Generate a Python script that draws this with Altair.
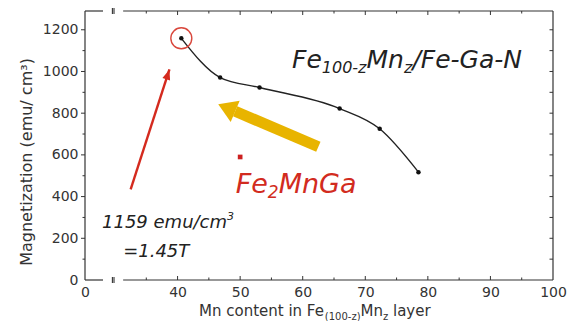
import altair as alt
import pandas as pd

# ---------------- data ----------------
mn_content = [40.6, 46.8, 53.1, 65.9, 72.3, 78.5]
magnetization = [1159, 971, 923, 822, 725, 517]
ref_x = [50.0]
ref_y = [590]

x_label_values = [0, 40, 50, 60, 70, 80, 90, 100]
y_label_values = [0, 200, 400, 600, 800, 1000, 1200]
x_minor = [35, 45, 55, 65, 75, 85, 95]
x_major = [40, 50, 60, 70, 80, 90]
y_major = [200, 400, 600, 800, 1000, 1200]
y_minor = [100, 300, 500, 700, 900, 1100]
y_all = [100, 200, 300, 400, 500, 600, 700, 800, 900, 1000, 1100, 1200]

# arrows (data coordinates)
red_arrow_tail = (32.5, 435)
red_arrow_tip = (38.7, 1010)
yel_arrow_tail = (62.5, 639)
yel_arrow_base = (49.2, 809)
yel_arrow_tip = (46.5, 843)

# ---------------- layout ----------------
W, H = 468, 269
FONT = "DejaVu Sans"
xs = alt.Scale(domain=[0, 30, 100], range=[0, 30, W], nice=False, zero=False)
ys = alt.Scale(domain=[0, 1290], nice=False, zero=False)

x_axis = alt.Axis(values=x_label_values, ticks=False, domain=False, grid=False, title=None,
                  labelFont=FONT, labelFontSize=14, labelColor="#333", labelPadding=5,
                  labelFlush=False, format="d")
y_axis = alt.Axis(values=y_label_values, ticks=False, domain=False, grid=False, title=None,
                  labelFont=FONT, labelFontSize=14, labelColor="#333", labelPadding=7,
                  format="d")

df = pd.DataFrame({"mn": mn_content, "mag": magnetization})
one = pd.DataFrame({"a": [0]})

X = lambda f: alt.X(f, type="quantitative", scale=xs, axis=x_axis)
Y = lambda f: alt.Y(f, type="quantitative", scale=ys, axis=y_axis)

curve = alt.Chart(df).mark_line(color="#222", strokeWidth=1.4, interpolate="monotone").encode(
    x=X("mn"), y=Y("mag"))
pts = alt.Chart(df).mark_point(filled=True, color="#111", size=20, opacity=1).encode(x=X("mn"), y=Y("mag"))

circ = alt.Chart(df.head(1)).mark_point(shape="circle", filled=False, color="#d9473c",
                                        strokeWidth=1.4, size=441, opacity=1).encode(x=X("mn"), y=Y("mag"))

ref = alt.Chart(pd.DataFrame({"x": ref_x, "y": ref_y})).mark_square(color="#cc2020", size=22, opacity=1).encode(
    x=X("x"), y=Y("y"))

# frame
seg = pd.DataFrame({"x0": [0, 31.3], "x1": [18, 100]})
frame_style = dict(color="#333", strokeWidth=1.2)
top_seg = alt.Chart(seg).mark_rule(**frame_style).encode(x=X("x0"), x2="x1", y=alt.value(0))
bot_seg = alt.Chart(seg).mark_rule(**frame_style).encode(x=X("x0"), x2="x1", y=alt.value(H))
left_ln = alt.Chart(one).mark_rule(**frame_style).encode(x=alt.value(0), y=alt.value(0), y2=alt.value(H))
right_ln = alt.Chart(one).mark_rule(**frame_style).encode(x=alt.value(W), y=alt.value(0), y2=alt.value(H))

brk = pd.DataFrame({"bx": [27.4, 29.0]})
brk_bot = alt.Chart(brk).mark_rule(color="#333", strokeWidth=1.1).encode(
    x=X("bx"), y=alt.value(H - 3), y2=alt.value(H + 3))
brk_top = alt.Chart(brk).mark_rule(color="#333", strokeWidth=1.1).encode(
    x=X("bx"), y=alt.value(-3), y2=alt.value(3))

# ticks
tick_style = dict(color="#333", strokeWidth=1)
xt = pd.DataFrame({"t": x_major})
xm = pd.DataFrame({"t": x_minor})
bot_major = alt.Chart(xt).mark_rule(**tick_style).encode(x=X("t"), y=alt.value(H), y2=alt.value(H - 4))
bot_minor = alt.Chart(xm).mark_rule(**tick_style).encode(x=X("t"), y=alt.value(H), y2=alt.value(H - 2.5))
top_major = alt.Chart(xt).mark_rule(**tick_style).encode(x=X("t"), y=alt.value(0), y2=alt.value(4))
top_minor = alt.Chart(xm).mark_rule(**tick_style).encode(x=X("t"), y=alt.value(0), y2=alt.value(2.5))
yt = pd.DataFrame({"t": y_major})
ym = pd.DataFrame({"t": y_minor})
ya = pd.DataFrame({"t": y_all})
left_major = alt.Chart(yt).mark_rule(**tick_style).encode(y=Y("t"), x=alt.value(0), x2=alt.value(-4))
left_minor = alt.Chart(ym).mark_rule(**tick_style).encode(y=Y("t"), x=alt.value(0), x2=alt.value(-2.5))
right_t = alt.Chart(ya).mark_rule(**tick_style).encode(y=Y("t"), x=alt.value(W), x2=alt.value(W - 3.5))

# arrows
red_df = pd.DataFrame({"x": [red_arrow_tail[0]], "y": [red_arrow_tail[1]],
                       "x2": [red_arrow_tip[0]], "y2": [red_arrow_tip[1]]})
red_shaft = alt.Chart(red_df).mark_rule(color="#d42a1e", strokeWidth=2.4).encode(
    x=X("x"), y=Y("y"), x2="x2", y2="y2")
red_head = alt.Chart(red_df).mark_point(shape="M0,0L-1,2.6L1,2.6Z", filled=True, color="#d42a1e",
                                        size=64, angle=17.8, opacity=1).encode(x=X("x2"), y=Y("y2"))

yel_df = pd.DataFrame({"x": [yel_arrow_tail[0]], "y": [yel_arrow_tail[1]],
                       "x2": [yel_arrow_base[0]], "y2": [yel_arrow_base[1]],
                       "tx": [yel_arrow_tip[0]], "ty": [yel_arrow_tip[1]]})
yel_shaft = alt.Chart(yel_df).mark_rule(color="#e8b400", strokeWidth=11, strokeCap="butt").encode(
    x=X("x"), y=Y("y"), x2="x2", y2="y2")
yel_head = alt.Chart(yel_df).mark_point(shape="M0,0L-1,1.6L1,1.6Z", filled=True, color="#e8b400",
                                        size=529, angle=293, opacity=1).encode(x=X("tx"), y=Y("ty"))


# texts
def txt(x, y, s, size, color="#222", dx=0, dy=0, italic=True):
    return alt.Chart(pd.DataFrame({"x": [x], "y": [y], "s": [s]})).mark_text(
        align="left", baseline="alphabetic", font=FONT, fontSize=size,
        fontStyle="italic" if italic else "normal", color=color, dx=dx, dy=dy
    ).encode(x=X("x"), y=Y("y"), text="s:N")


lab_x, lab_y = 58.3, 1017
label_parts = [
    txt(lab_x, lab_y, "Fe", 25),
    txt(lab_x, lab_y, "100-z", 16, dx=29.7, dy=5),
    txt(lab_x, lab_y, "Mn", 25, dx=74.4),
    txt(lab_x, lab_y, "z", 16, dx=111.9, dy=5),
    txt(lab_x, lab_y, "/Fe-Ga-N", 25, dx=120.3),
]
RED = "#d22b20"
rl_x, rl_y = 49.3, 417
red_parts = [
    txt(rl_x, rl_y, "Fe", 27, RED),
    txt(rl_x, rl_y, "2", 17, RED, dx=32.1, dy=5),
    txt(rl_x, rl_y, "MnGa", 27, RED, dx=42.9),
]
val_parts = [
    txt(17, 249, "1159 emu/cm", 18),
    txt(17, 249, "3", 11, dx=125, dy=-8),
    txt(31.3, 110, "=1.45T", 18),
]


def ptxt(px, py, s, size, dx=0, dy=0):
    return alt.Chart(one).mark_text(
        align="left", baseline="alphabetic", font=FONT, fontSize=size, color="#333",
        dx=dx, dy=dy
    ).encode(x=alt.value(px), y=alt.value(py), text=alt.value(s))


xt_x, xt_y = 114, 305
xtitle = [
    ptxt(xt_x, xt_y, "Mn content in Fe", 15),
    ptxt(xt_x, xt_y, "(100-z)", 10, dx=125.8, dy=4),
    ptxt(xt_x, xt_y, "Mn", 15, dx=161.5),
    ptxt(xt_x, xt_y, "z", 10, dx=184.0, dy=4),
    ptxt(xt_x, xt_y, "layer", 15, dx=194.0),
]
ytitle = alt.Chart(one).mark_text(
    align="center", baseline="middle", font=FONT, fontSize=16, color="#333", angle=270
).encode(x=alt.value(-58), y=alt.value(151), text=alt.value("Magnetization (emu/ cm³)"))

layers = [top_seg, bot_seg, left_ln, right_ln, brk_bot, brk_top,
          bot_major, bot_minor, top_major, top_minor, left_major, left_minor, right_t,
          yel_shaft, yel_head, red_shaft, red_head,
          curve, pts, circ, ref] + label_parts + red_parts + val_parts + xtitle + [ytitle]

chart = alt.layer(*layers).properties(
    width=W, height=H,
    autosize=alt.AutoSizeParams(type="none"),
    padding={"left": 77, "top": 3, "right": 14, "bottom": 41},
    background="white",
).configure_view(stroke=None)

chart.save("out.html", embed_options={"renderer": "svg", "actions": False})
